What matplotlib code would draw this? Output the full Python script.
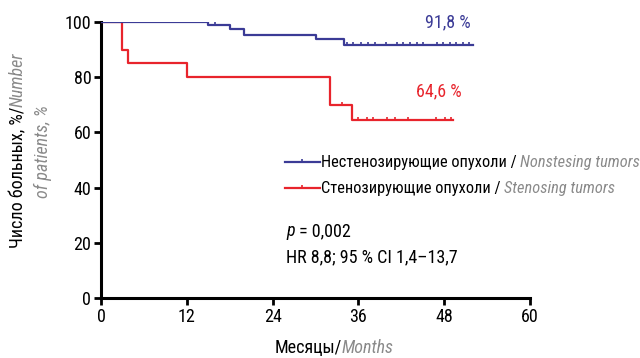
import matplotlib
matplotlib.use('Agg')
import matplotlib.pyplot as plt
from matplotlib.path import Path
import numpy as np

plt.rcParams['font.family'] = ['Roboto Condensed', 'DejaVu Sans']

BLUE = '#3b3b96'
RED = '#e8242c'
GRAY = '#8a8a8a'

# Kaplan-Meier steps: nonstenosing tumors
blue_t = [0, 15, 18, 20, 30, 34]
blue_s = [100, 98.8, 97.6, 95.3, 93.9, 91.8]
blue_end = 52
blue_cens_t = [8, 16, 34.4, 35.2, 36.4, 37.3, 38.3, 39.9, 41.4, 42.2, 43.2,
               44.2, 45.0, 47.0, 47.8, 48.8, 49.7, 50.6, 51.5]

# stenosing tumors
red_t = [0, 2.9, 3.8, 12, 32, 35.1]
red_s = [100, 90, 85, 80, 70, 64.6]
red_end = 49.3
red_cens_t = [33.7, 36.0, 37.2, 38.1, 40.0, 41.1, 43.0, 46.9, 48.1, 49.0]

xticks = [0, 12, 24, 36, 48, 60]
yticks = [0, 20, 40, 60, 80, 100]

FS = 13
LEG_FS = 11.8


def surv_at(t, times, surv):
    idx = np.searchsorted(times, t, side='right') - 1
    return np.array(surv)[idx]


def pieces_text(fig, x, y, pieces, rotation=0, ha='left', size=FS):
    # lay out text pieces one after another, in figure pixels
    r = fig.canvas.get_renderer()
    objs = []
    for s, kw in pieces:
        objs.append(fig.text(0, 0, s, rotation=rotation, size=size,
                             va='center', ha='left', rotation_mode='anchor',
                             transform=None, **kw))
    widths = []
    for o in objs:
        bb = o.get_window_extent(r)
        widths.append(bb.height if rotation == 90 else bb.width)
    total = sum(widths)
    pos = -total / 2 if ha == 'center' else 0
    for o, w in zip(objs, widths):
        if rotation == 90:
            o.set_position((x, y + pos))
        else:
            o.set_position((x + pos, y))
        pos += w
    return objs


fig = plt.figure(figsize=(6.4, 3.58), dpi=100)
ax = fig.add_axes([101 / 640, 1 - 298 / 358, 429 / 640, 276 / 358])

tick_path = Path([(0, 0), (0, 1)])

bt = blue_t + [blue_end]
bs = blue_s + [blue_s[-1]]
rt = red_t + [red_end]
rs = red_s + [red_s[-1]]

ax.step(rt, rs, where='post', color=RED, lw=1.6, zorder=3)
ax.plot(red_cens_t, surv_at(red_cens_t, red_t, red_s), ls='none',
        marker=tick_path, ms=5, mew=1.2, color=RED, zorder=3)
ax.step(bt, bs, where='post', color=BLUE, lw=1.6, zorder=4)
ax.plot(blue_cens_t, surv_at(blue_cens_t, blue_t, blue_s), ls='none',
        marker=tick_path, ms=5, mew=1.2, color=BLUE, zorder=4)

ax.set_xlim(0, 60)
ax.set_ylim(0, 100)
ax.set_xticks(xticks)
ax.set_yticks(yticks)
ax.tick_params(direction='out', length=5, width=2, labelsize=13, pad=2)
for side in ['top', 'right']:
    ax.spines[side].set_visible(False)
for side in ['left', 'bottom']:
    ax.spines[side].set_linewidth(2.2)
ax.patch.set_alpha(0)

ax.text(51.7, 96.5, '91,8 %', color=BLUE, size=FS, ha='right', va='bottom')
ax.text(50.5, 71.5, '64,6 %', color=RED, size=FS, ha='right', va='bottom')

# legend drawn by hand: line sample then two-tone label
for yy, col in [(162, BLUE), (188, RED)]:
    fig.add_artist(plt.Line2D([285 / 640, 320 / 640], [1 - yy / 358] * 2,
                              color=col, lw=1.6))
    fig.add_artist(plt.Line2D([302 / 640], [1 - yy / 358], marker=tick_path,
                              ms=4, mew=1.2, color=col))

H = 358
pieces_text(fig, 321, H - 162, [('Нестенозирующие опухоли / ', dict(color='black')),
                                ('Nonstesing tumors', dict(color=GRAY, style='italic'))],
            size=LEG_FS)
pieces_text(fig, 321, H - 188, [('Стенозирующие опухоли / ', dict(color='black')),
                                ('Stenosing tumors', dict(color=GRAY, style='italic'))],
            size=LEG_FS)
pieces_text(fig, 286, H - 231, [('p', dict(color='black', style='italic')),
                                (' = 0,002', dict(color='black'))])
pieces_text(fig, 286, H - 257, [('HR 8,8; 95 % CI 1,4–13,7', dict(color='black'))])

pieces_text(fig, 334, H - 348, [('Месяцы/', dict(color='black')),
                                ('Months', dict(color=GRAY, style='italic'))],
            ha='center')
pieces_text(fig, 18, H - 150, [('Число больных, %/', dict(color='black')),
                               ('Number', dict(color=GRAY, style='italic'))],
            rotation=90, ha='center')
pieces_text(fig, 43, H - 152, [('of patients, %', dict(color=GRAY, style='italic'))],
            rotation=90, ha='center')

fig.savefig('out.png', dpi=100)
